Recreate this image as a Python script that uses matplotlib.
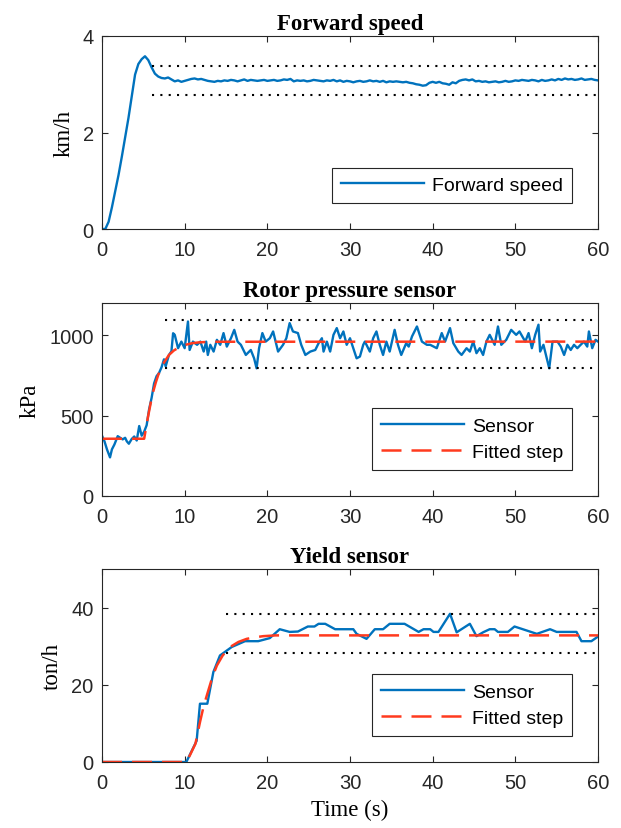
import matplotlib
matplotlib.use("Agg")
import matplotlib.pyplot as plt
import numpy as np

# --- DATA ---
# forward speed, sampled every 0.4 s from t = 0
speed_dt = 0.4
speed = [
    0.00, 0.00, 0.15, 0.45, 0.78, 1.12, 1.50, 1.90, 2.30, 2.75, 3.20,
    3.42, 3.52, 3.58, 3.50, 3.35, 3.22, 3.16, 3.13, 3.12, 3.14,
    3.10, 3.06, 3.08, 3.05, 3.07, 3.09, 3.11, 3.12, 3.10, 3.11,
    3.09, 3.07, 3.06, 3.05, 3.07, 3.06, 3.08, 3.07, 3.09, 3.08,
    3.06, 3.08, 3.10, 3.07, 3.09, 3.08, 3.07, 3.08, 3.09, 3.07,
    3.08, 3.09, 3.07, 3.08, 3.10, 3.09, 3.11, 3.06, 3.08, 3.07,
    3.08, 3.06, 3.07, 3.09, 3.08, 3.07, 3.06, 3.08, 3.07, 3.09,
    3.06, 3.08, 3.05, 3.07, 3.06, 3.04, 3.06, 3.07, 3.05, 3.06,
    3.08, 3.06, 3.07, 3.05, 3.07, 3.04, 3.06, 3.05, 3.06, 3.05,
    3.04, 3.05, 3.03, 3.02, 3.00, 2.99, 2.97, 2.98, 3.03, 3.05,
    3.03, 3.05, 3.02, 3.01, 2.99, 3.04, 3.02, 3.07, 3.09, 3.10,
    3.08, 3.10, 3.06, 3.07, 3.05, 3.06, 3.04, 3.05, 3.06, 3.04,
    3.05, 3.07, 3.05, 3.06, 3.08, 3.07, 3.09, 3.08, 3.07, 3.09,
    3.08, 3.06, 3.09, 3.07, 3.08, 3.10, 3.08, 3.11, 3.09, 3.12,
    3.10, 3.11, 3.09, 3.10, 3.12, 3.09, 3.10, 3.11, 3.09, 3.08,
]
speed_band = [2.77, 3.37]
speed_band_t = [6.0, 60.0]

# rotor pressure sensor (t, kPa)
press_t = [
    0, 0.3, 0.6, 0.97, 1.2, 1.5, 1.9, 2.2, 2.5, 2.8, 3.0, 3.25, 3.6, 3.9, 4.2, 4.5, 4.8, 5.1,
    5.4, 5.7, 6.0, 6.3, 6.6, 6.9, 7.2, 7.5, 7.7, 8.1, 8.4, 8.6, 8.8, 9.2, 9.6, 10.0,
    10.4, 10.6, 11.0, 11.5, 11.9, 12.3, 12.6, 12.8, 13.1, 13.5, 13.9, 14.3, 14.7, 15.1,
    15.6, 16.0, 16.4, 16.8, 17.4, 18.0, 18.4, 18.7, 19.0, 19.4, 19.8,
    20.3, 20.7, 21.1, 21.3, 21.9, 22.3, 22.7, 23.1, 23.7, 24.1, 24.6, 25.2, 25.8, 26.2,
    26.6, 26.8, 27.2, 27.6, 28.0, 28.4, 28.8, 29.2, 29.6, 30.0, 30.4, 30.8, 31.2, 31.6,
    31.8, 32.4, 32.8, 33.2, 33.6, 34.0, 34.4, 34.8, 35.4, 35.8, 36.2, 36.8, 37.1, 37.5,
    38.1, 38.7, 39.3,
    39.7, 40.5, 41.1, 41.5, 42.1, 42.5, 43.1, 43.5, 44.1, 44.5, 44.9, 45.3, 45.7, 46.1,
    46.5, 46.9, 47.5, 47.9, 48.3, 48.9, 49.5, 50.1, 50.5, 51.2, 51.6, 52.0, 52.4, 52.8,
    53.0, 53.4, 53.8, 54.1, 54.5, 55.1, 55.5, 55.9, 56.3, 56.7, 57.1, 57.5, 57.9, 58.3,
    58.7, 58.9, 59.3, 59.7, 60.0,
]
press_v = [
    375, 340, 290, 240, 290, 320, 372, 362, 352, 362, 340, 325, 355, 370, 345, 435, 375, 400,
    440, 540, 610, 700, 745, 765, 800, 850, 806, 877, 900, 1012, 1002, 919, 960, 919,
    1085, 908, 960, 940, 960, 898, 960, 877, 940, 898, 971, 940, 1013, 929,
    981, 1033, 960, 940, 877, 908, 856, 794, 919, 1013, 960,
    981, 1023, 940, 898, 940, 981, 1075, 1023, 1013, 940, 877, 898, 908, 950,
    981, 898, 960, 898, 1002, 1044, 981, 1023, 940, 981, 919, 856, 867, 940,
    960, 898, 981, 1023, 940, 877, 960, 898, 1033, 940, 877, 950, 929, 992,
    1054, 960, 940,
    940, 919, 1013, 960, 1044, 950, 898, 877, 919, 898, 960, 888, 919, 877,
    960, 1002, 940, 1054, 940, 971, 1033, 1002, 1023, 960, 1013, 919, 1002, 1065,
    898, 940, 856, 794, 960, 960, 929, 877, 940, 908, 940, 919, 940, 960,
    929, 1023, 919, 971, 960,
]
press_fit_t = [0, 5.1, 5.35, 5.6, 5.9, 6.2, 6.5, 6.8, 7.1, 7.5, 8.1, 8.7, 9.3, 10.1, 10.9, 11.7, 13.0, 60.0]
press_fit_v = [356, 356, 430, 502, 580, 650, 705, 752, 790, 830, 877, 905, 923, 940, 950, 955, 959, 960]
press_band = [794, 1096]
press_band_t = [7.6, 60.0]

# yield sensor (t, ton/h)
yield_t = [
    0, 10.2, 11.45, 11.85, 12.74, 13.47, 14.27, 15.7, 17.3, 18.9, 20.3, 21.5, 22.7, 23.7,
    24.9, 25.7, 26.2, 27.0, 28.2, 30.4, 30.8, 32.0, 33.0, 34.0, 34.8, 36.6, 38.3, 38.9,
    39.7, 40.1, 40.7, 42.1, 42.9, 44.5, 45.3, 46.1, 46.9, 47.5, 47.9, 49.1, 49.9, 50.9,
    52.6, 54.2, 55.0, 57.4, 58.0, 59.2, 60.0,
]
yield_v = [
    0, 0, 5.5, 15.1, 15.1, 23.3, 27.6, 29.8, 31.3, 31.3, 32.1, 34.4, 33.7, 33.8,
    35.1, 35.1, 35.8, 35.8, 34.4, 34.4, 33.2, 31.9, 34.4, 34.4, 35.8, 35.8, 33.7, 34.4,
    34.4, 33.7, 33.7, 38.4, 33.6, 35.8, 32.6, 33.6, 34.4, 34.4, 33.7, 33.7, 35.1, 34.4,
    33.2, 34.4, 33.7, 33.7, 31.3, 31.3, 32.5,
]
yield_fit_t = [0, 10.2, 10.6, 11.3, 11.85, 12.3, 12.8, 13.35, 13.9, 14.6, 15.5, 16.5, 17.5, 18.5, 19.5, 21.0, 60.0]
yield_fit_v = [0, 0, 1.6, 4.7, 10.3, 14.5, 18.1, 22.0, 25.0, 27.6, 29.8, 31.1, 31.9, 32.3, 32.6, 32.8, 32.8]
yield_band = [28.3, 38.4]
yield_band_t = [15.0, 60.0]

x_ticks = [0, 10, 20, 30, 40, 50, 60]

# --- STYLE ---
BLUE = "#0072BD"
RED = "#FF3A1E"
DARK = "0.15"
plt.rcParams["font.family"] = ["Liberation Sans", "DejaVu Sans"]
plt.rcParams["axes.edgecolor"] = DARK
plt.rcParams["axes.linewidth"] = 0.8
SERIF = ["Liberation Serif", "DejaVu Serif"]

fig = plt.figure(figsize=(6.21, 8.29), dpi=100)
W = 496 / 621
H = 193 / 829
ax1 = fig.add_axes([102 / 621, 1 - 230 / 829, W, H])
ax2 = fig.add_axes([102 / 621, 1 - 497 / 829, W, H])
ax3 = fig.add_axes([102 / 621, 1 - 763 / 829, W, H])


def dotted(ax, band, band_t):
    for lvl in band:
        ax.plot(band_t, [lvl, lvl], color="black", lw=1.5,
                linestyle=(0, (1, 3)), dash_capstyle="butt")


def style(ax, ylim, yticks, title, ylabel):
    ax.set_xlim(0, 60)
    ax.set_ylim(*ylim)
    ax.set_xticks(x_ticks)
    ax.set_yticks(yticks)
    ax.tick_params(direction="in", top=True, right=True, length=4.5, width=0.8,
                   labelsize=14.5, colors=DARK)
    ax.tick_params(axis="x", pad=8)
    ax.tick_params(axis="y", pad=6)
    ax.set_title(title, family=SERIF, fontweight="bold", fontsize=16.5, pad=5)
    ax.set_ylabel(ylabel, family=SERIF, fontsize=16.5, labelpad=6)


def legend(ax):
    leg = ax.legend(loc="lower right", bbox_to_anchor=(0.9476, 0.135), borderaxespad=0,
                    fontsize=14, handlelength=4.3, handletextpad=0.4, borderpad=0.45,
                    labelspacing=0.45, fancybox=False, framealpha=1, edgecolor=DARK)
    leg.get_frame().set_linewidth(0.8)


# --- FORWARD SPEED ---
t_speed = np.arange(len(speed)) * speed_dt
ax1.plot(t_speed, speed, color=BLUE, lw=1.7, label="Forward speed")
dotted(ax1, speed_band, speed_band_t)
style(ax1, (0, 4), [0, 2, 4], "Forward speed", "km/h")
legend(ax1)

# --- ROTOR PRESSURE ---
ax2.plot(press_t, press_v, color=BLUE, lw=1.7, label="Sensor")
ax2.plot(press_fit_t, press_fit_v, color=RED, lw=1.8, linestyle=(0, (8, 4)), label="Fitted step")
dotted(ax2, press_band, press_band_t)
style(ax2, (0, 1200), [0, 500, 1000], "Rotor pressure sensor", "kPa")
legend(ax2)

# --- YIELD ---
ax3.plot(yield_t, yield_v, color=BLUE, lw=1.7, label="Sensor")
ax3.plot(yield_fit_t, yield_fit_v, color=RED, lw=1.8, linestyle=(0, (8, 4)), label="Fitted step")
dotted(ax3, yield_band, yield_band_t)
style(ax3, (0, 50), [0, 20, 40], "Yield sensor", "ton/h")
ax3.set_xlabel("Time (s)", family=SERIF, fontsize=16.5, labelpad=5)
legend(ax3)

fig.savefig("out.png", dpi=100)
